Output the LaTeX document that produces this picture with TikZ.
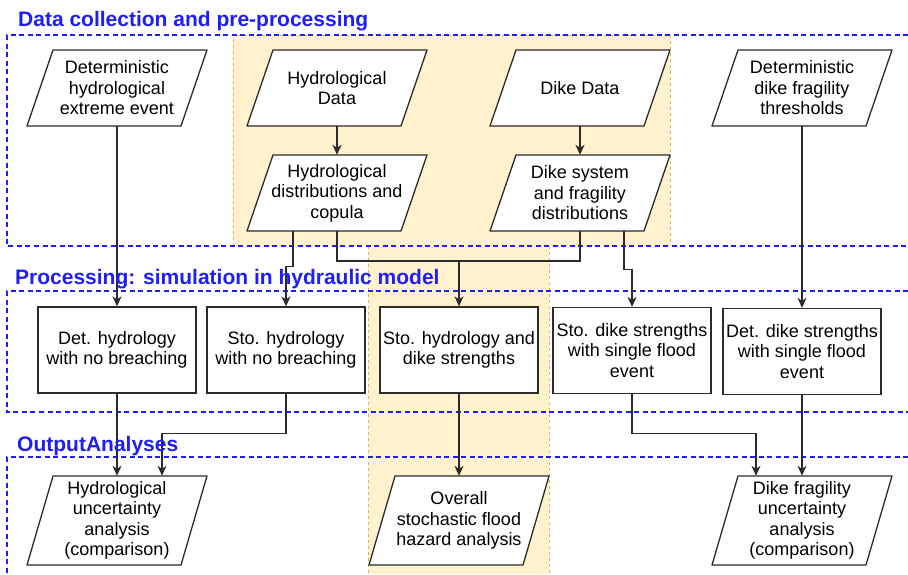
\documentclass[tikz,border=0pt]{standalone}
\usepackage{fontspec}
\setmainfont{Liberation Sans}
\usetikzlibrary{arrows.meta}
\definecolor{bandfill}{HTML}{FFF2CC}
\definecolor{bandline}{HTML}{D6B656}
\definecolor{secblue}{HTML}{1F1FF5}
\definecolor{ink}{HTML}{2B2B2B}
\tikzset{
  bandedge/.style={draw=bandline, line width=0.8pt, dash pattern=on 3pt off 3pt},
  section/.style={draw=secblue, line width=1.3pt, dash pattern=on 5pt off 3.5pt},
  sectitle/.style={text=secblue, font=\fontsize{21}{24}\selectfont\bfseries, anchor=base west, inner sep=0pt},
  procbox/.style={draw=ink, fill=white, line width=1.3pt, minimum width=158pt, minimum height=86pt, align=center, font=\fontsize{18}{20.5}\selectfont, inner sep=0pt},
  paratext/.style={align=center, font=\fontsize{18}{20.5}\selectfont, inner sep=0pt},
  paraline/.style={draw=ink, fill=white, line width=1.3pt, line join=round},
  conn/.style={draw=ink, line width=1.3pt, -{Stealth[length=10pt,width=9pt,inset=3pt]}},
  link/.style={draw=ink, line width=1.3pt},
}
% #1 name, #2 x, #3 y, #4 height, #5 text
\newcommand\paranode[5]{%
  \path[paraline] ({#2-77+13},{#3-#4/2}) -- ({#2+77+13},{#3-#4/2}) -- ({#2+77-13},{#3+#4/2}) -- ({#2-77-13},{#3+#4/2}) -- cycle;
  \node[paratext, minimum height=#4pt] (#1) at (#2,#3) {#5};
}
\begin{document}
\begin{tikzpicture}[x=1pt,y=-1pt]
\useasboundingbox (0,0) rectangle (908,574);
% yellow bands
\fill[bandfill] (233,35) rectangle (670,246);
\fill[bandfill] (368,246) rectangle (549,574);
\draw[bandedge] (233,246) -- (233,35) -- (670,35) -- (670,246);
\draw[bandedge] (368,246) -- (368,574);
\draw[bandedge] (549,246) -- (549,574);
% blue sections
\draw[section] (908,35) -| (7,246) -- (908,246);
\draw[section] (908,291) -| (7,412) -- (908,412);
\draw[section] (908,457) -| (7,574);
% top row
\paranode{dhe}{117}{88}{76}{Deterministic\\hydrological\\extreme event}
\paranode{hd}{337}{88}{76}{Hydrological\\Data}
\paranode{dd}{580}{88}{76}{Dike Data}
\paranode{dt}{802}{88}{76}{Deterministic\\dike fragility\\thresholds}
\paranode{hdist}{337}{193}{76}{Hydrological\\distributions and\\copula}
\paranode{ddist}{580}{193}{76}{Dike system\\and fragility\\distributions}
% processing row
\node[procbox] (dh) at (117,350) {Det. hydrology\\with no breaching};
\node[procbox] (sh) at (286,350) {Sto. hydrology\\with no breaching};
\node[procbox] (shd) at (459,350) {Sto. hydrology and\\dike strengths};
\node[procbox] (sd) at (632,350.5) {Sto. dike strengths\\with single flood\\event};
\node[procbox] (ddk) at (802,351.5) {Det. dike strengths\\with single flood\\event};
% output row
\paranode{hu}{117}{520.5}{89}{Hydrological\\uncertainty\\analysis\\(comparison)}
\paranode{ov}{459}{520.5}{89}{Overall\\stochastic flood\\hazard analysis}
\paranode{df}{802}{520.5}{89}{Dike fragility\\uncertainty\\analysis\\(comparison)}
% connectors
\draw[conn] (hd.south) -- (hdist.north);
\draw[conn] (dd.south) -- (ddist.north);
\draw[conn] (dhe.south) -- (dh.north);
\draw[conn] ([xshift=-44pt]hdist.south) -- ++(0,35) -| (sh.north);
\coordinate (mg) at (459,261);
\draw[link] (hdist.south) |- (mg);
\draw[link] (ddist.south) |- (mg);
\draw[conn] (mg) -- (shd.north);
\draw[conn] ([xshift=44pt]ddist.south) -- ++(0,38) -| (sd.north);
\draw[conn] (dt.south) -- (ddk.north);
\draw[conn] (dh.south) -- (hu.north);
\draw[conn] (sh.south) -- ++(0,40) -| ([xshift=45pt]hu.north);
\draw[conn] (shd.south) -- (ov.north);
\draw[conn] (sd.south) -- ++(0,39.5) -| ([xshift=-46pt]df.north);
\draw[conn] (ddk.south) -- (df.north);
% section titles
\node[sectitle] (t1) at (18,26) {Data collection and pre-processing};
\node[sectitle] (t2) at (15,284) {Processing: simulation in hydraulic model};
\node[sectitle] (t3) at (17,451) {OutputAnalyses};
\end{tikzpicture}
\end{document}
